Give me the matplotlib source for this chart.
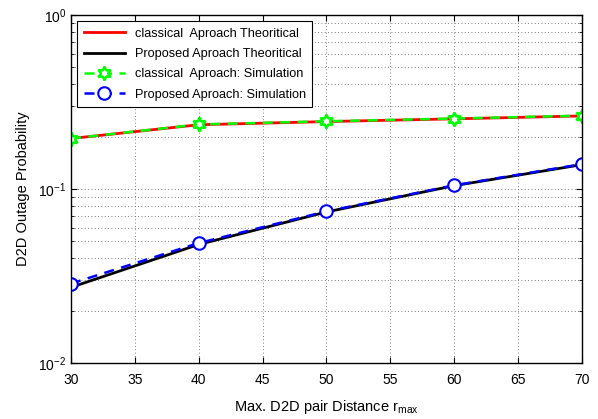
import numpy as np
import matplotlib.pyplot as plt
from matplotlib.ticker import LogLocator, NullFormatter

plt.rcParams['font.family'] = ['Liberation Sans', 'DejaVu Sans']

# distances
r_max = [30, 40, 50, 60, 70]

# outage probabilities
classical_theory = [0.195, 0.234, 0.244, 0.253, 0.263]
proposed_theory = [0.0272, 0.0480, 0.0738, 0.1045, 0.138]
classical_sim = [0.195, 0.235, 0.245, 0.254, 0.264]
proposed_sim = [0.0286, 0.0489, 0.0744, 0.105, 0.139]

fig = plt.figure(figsize=(5.98, 4.19), dpi=100)
ax = fig.add_axes([0.1187, 0.1337, 0.8545, 0.8305])

ax.semilogy(r_max, classical_theory, color='red', lw=2,
            label='classical  Aproach Theoritical')
ax.semilogy(r_max, proposed_theory, color='black', lw=2,
            label='Proposed Aproach Theoritical')
ax.semilogy(r_max, classical_sim, color='#00ff00', lw=1.8, ls=(0, (4, 3)),
            marker=(6, 1, 0), ms=10, mfc='white', mec='#00ff00', mew=1.8,
            label='classical  Aproach: Simulation')
ax.semilogy(r_max, proposed_sim, color='blue', lw=1.8, ls=(0, (4, 3)),
            marker='o', ms=9, mfc='white', mec='blue', mew=1.5,
            label='Proposed Aproach: Simulation')

ax.set_xlim(30, 70)
ax.set_ylim(1e-2, 1)
ax.set_xticks(range(30, 71, 5))
ax.yaxis.set_major_locator(LogLocator(base=10, numticks=5))
ax.yaxis.set_minor_locator(LogLocator(base=10, subs=np.arange(2, 10), numticks=20))
ax.yaxis.set_minor_formatter(NullFormatter())
ax.tick_params(which='both', direction='in', top=True, right=True, labelsize=10)
ax.tick_params(which='major', length=4)
ax.tick_params(which='minor', length=2)
ax.tick_params(axis='x', pad=7)
for s in ax.spines.values():
    s.set_linewidth(1.0)

ax.grid(True, which='major', ls=(0, (1, 3)), color='#555555', lw=0.6)
ax.grid(True, which='minor', axis='y', ls=(0, (1, 3)), color='#555555', lw=0.6)

ax.set_xlabel('Max. D2D pair Distance r$_{\\mathregular{max}}$', fontsize=10.5, labelpad=8)
ax.set_ylabel('D2D Outage Probability', fontsize=10.5, labelpad=6)

leg = ax.legend(loc='upper left', fontsize=9.2, fancybox=False, framealpha=1,
                edgecolor='black', handlelength=3.2, borderaxespad=0.5,
                labelspacing=0.65, borderpad=0.5)
leg.get_frame().set_linewidth(0.8)

plt.savefig('out.png', dpi=100)
